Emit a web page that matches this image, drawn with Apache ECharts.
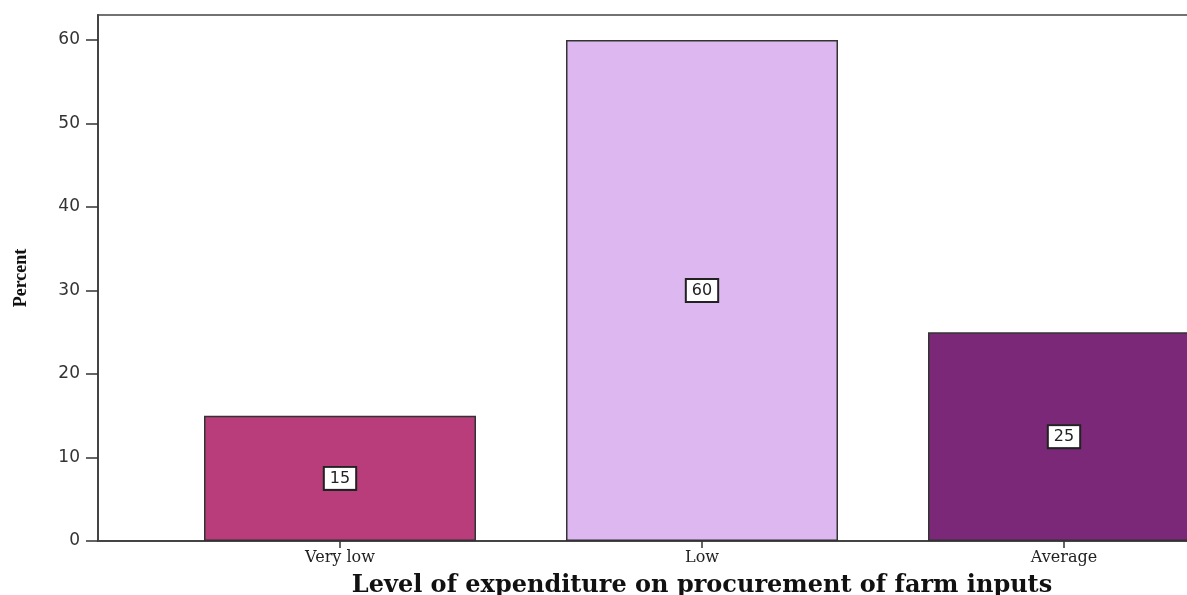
<!DOCTYPE html>
<html>
<head>
<meta charset="utf-8">
<title>Level of expenditure on procurement of farm inputs</title>
<script src="https://cdn.jsdelivr.net/npm/echarts@6/dist/echarts.min.js"></script>
<style>
  html, body { margin: 0; padding: 0; background: #fff; }
  #chart { width: 1187px; height: 595px; }
</style>
</head>
<body>
<div id="chart"></div>
<script>
// Survey result: share of respondents by level of spending on farm inputs
const categories = ['Very low', 'Low', 'Average'];
const percents = [15, 60, 25];
const barColors = ['#B93D7B', '#DDB8F0', '#7B2878'];
const yTickValues = [0, 10, 20, 30, 40, 50, 60];

// Bars sit on integer positions of a value axis so the plot can keep
// an empty margin on each side of the three category bands.
const barData = percents.map((v, i) => ({
  value: [i, v],
  itemStyle: { color: barColors[i] }
}));

const chart = echarts.init(document.getElementById('chart'), null, { renderer: 'canvas' });

chart.setOption({
  animation: false,
  backgroundColor: '#ffffff',
  grid: {
    left: 98,
    top: 15,
    width: 1208,
    bottom: 54,
    containLabel: false,
    outerBoundsMode: 'none',
    show: true,
    borderColor: '#444',
    borderWidth: 1.5,
    backgroundColor: 'transparent'
  },
  xAxis: {
    type: 'value',
    min: -0.6685,
    max: 2.6685,
    splitLine: { show: false },
    axisLine: { show: true, onZero: false, lineStyle: { color: '#444', width: 2 } },
    axisTick: {
      show: true,
      customValues: [0, 1, 2],
      length: 7,
      lineStyle: { color: '#333', width: 1.5 }
    },
    axisLabel: {
      customValues: [0, 1, 2],
      formatter: v => categories[Math.round(v)],
      margin: 9,
      fontFamily: 'DejaVu Serif',
      fontSize: 16,
      color: '#222'
    },
    name: 'Level of expenditure on procurement of farm inputs',
    nameLocation: 'middle',
    nameGap: 33,
    nameMoveOverlap: false,
    nameTextStyle: {
      fontFamily: 'DejaVu Serif',
      fontWeight: 'bold',
      fontSize: 24,
      color: '#111'
    }
  },
  yAxis: {
    type: 'value',
    min: 0,
    max: 63,
    splitLine: { show: false },
    axisLine: { show: true, onZero: false, lineStyle: { color: '#444', width: 2 } },
    axisTick: {
      show: true,
      customValues: yTickValues,
      length: 12,
      lineStyle: { color: '#333', width: 1.5 }
    },
    axisLabel: {
      customValues: yTickValues,
      margin: 18,
      fontFamily: 'DejaVu Sans',
      fontSize: 17,
      color: '#333'
    },
    name: 'Percent',
    nameLocation: 'middle',
    nameGap: 68,
    nameRotate: 90,
    nameMoveOverlap: false,
    nameTextStyle: {
      fontFamily: 'Liberation Serif',
      fontWeight: 'bold',
      fontSize: 18,
      color: '#111'
    }
  },
  series: [{
    type: 'bar',
    data: barData,
    barWidth: 272,
    itemStyle: { borderColor: '#333', borderWidth: 1.5 },
    label: {
      show: true,
      position: 'inside',
      formatter: p => String(p.value[1]),
      backgroundColor: '#ffffff',
      borderColor: '#222',
      borderWidth: 2,
      padding: [3, 5, 2, 5],
      fontFamily: 'DejaVu Sans',
      fontSize: 16,
      color: '#222'
    }
  }]
});
</script>
</body>
</html>
